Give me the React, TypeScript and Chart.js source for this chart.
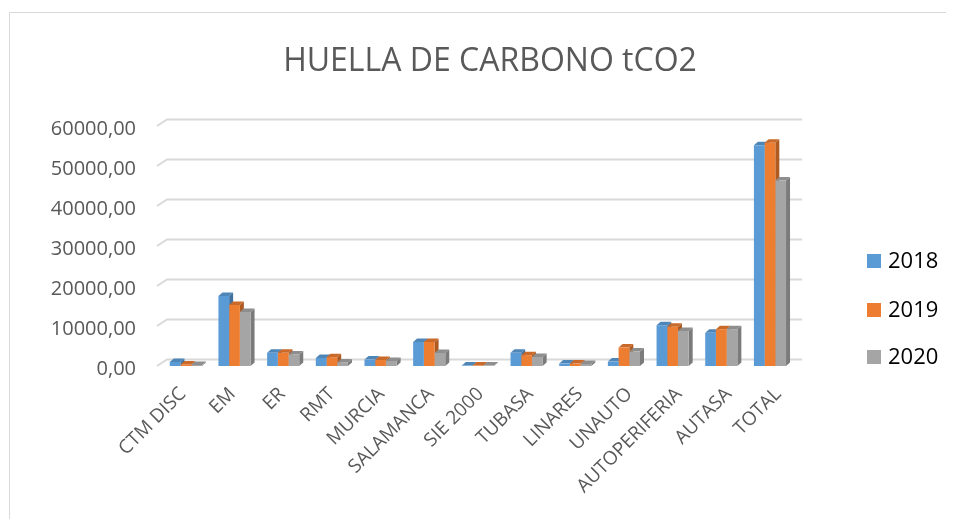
import React, { useEffect, useRef } from "react";
import { Chart, registerables } from "chart.js";

Chart.register(...registerables);

const categories = [
  "CTM DISC", "EM", "ER", "RMT", "MURCIA", "SALAMANCA", "SIE 2000",
  "TUBASA", "LINARES", "UNAUTO", "AUTOPERIFERIA", "AUTASA", "TOTAL",
];
const seriesNames = ["2018", "2019", "2020"];
const values2018 = [1000, 17500, 3300, 2000, 1600, 6000, 100, 3300, 600, 1100, 10200, 8300, 55200];
const values2019 = [400, 15250, 3300, 2200, 1500, 6000, 100, 2700, 600, 4600, 9800, 9200, 55800];
const values2020 = [250, 13500, 2900, 900, 1250, 3250, 100, 2250, 500, 3600, 8750, 9200, 46400];
const yTicks = [0, 10000, 20000, 30000, 40000, 50000, 60000];
const titleText = "HUELLA DE CARBONO tCO2";

const frontColors = ["#5B9BD5", "#ED7D31", "#A5A5A5"];
const sideColors = ["#41719C", "#AE5A21", "#7B7B7B"];
const topColors = ["#4F86B8", "#C9692A", "#8E8E8E"];

const FONT = "'Open Sans', 'Noto Sans', sans-serif";

const decorPlugin = {
  id: "decor",
  beforeDraw(chart: any) {
    const ctx = chart.ctx;
    ctx.save();
    ctx.fillStyle = "#ffffff";
    ctx.fillRect(0, 0, chart.width, chart.height);
    ctx.strokeStyle = "#d9d9d9";
    ctx.lineWidth = 1;
    ctx.beginPath();
    ctx.moveTo(1.5, chart.height);
    ctx.lineTo(1.5, 4.5);
    ctx.lineTo(chart.width, 4.5);
    ctx.stroke();

    ctx.fillStyle = "#595959";
    ctx.font = `32px ${FONT}`;
    ctx.textAlign = "center";
    ctx.textBaseline = "alphabetic";
    ctx.fillText(titleText, 482, 63);

    const area = chart.chartArea;
    const y = chart.scales.y;
    ctx.strokeStyle = "#d9d9d9";
    ctx.lineWidth = 1.8;
    yTicks.forEach((t) => {
      const py = y.getPixelForValue(t);
      ctx.beginPath();
      ctx.moveTo(area.left, py);
      ctx.lineTo(area.left + 10, py - 6.5);
      ctx.lineTo(area.right, py - 6.5);
      ctx.stroke();
    });

    ctx.font = `22px ${FONT}`;
    ctx.textAlign = "left";
    ctx.textBaseline = "middle";
    const ly = [253, 302, 349];
    seriesNames.forEach((n, i) => {
      ctx.fillStyle = frontColors[i];
      ctx.fillRect(859, ly[i] - 7, 14, 14);
      ctx.fillStyle = "#000000";
      ctx.fillText(n, 880, ly[i] + 1);
    });
    ctx.restore();
  },
  beforeDatasetsDraw(chart: any) {
    const ctx = chart.ctx;
    const dx = 4;
    const dy = 3.5;
    ctx.save();
    chart.data.datasets.forEach((ds: any, di: number) => {
      const meta = chart.getDatasetMeta(di);
      meta.data.forEach((bar: any) => {
        const { x, y, width, base } = bar.getProps(["x", "y", "width", "base"], true);
        const l = x - width / 2;
        const r = x + width / 2;
        ctx.fillStyle = sideColors[di];
        ctx.beginPath();
        ctx.moveTo(r, y);
        ctx.lineTo(r + dx, y - dy);
        ctx.lineTo(r + dx, base - dy);
        ctx.lineTo(r, base);
        ctx.closePath();
        ctx.fill();
        ctx.fillStyle = topColors[di];
        ctx.beginPath();
        ctx.moveTo(l, y);
        ctx.lineTo(l + dx, y - dy);
        ctx.lineTo(r + dx, y - dy);
        ctx.lineTo(r, y);
        ctx.closePath();
        ctx.fill();
      });
    });
    ctx.restore();
  },
};

export default function App() {
  const ref = useRef<HTMLCanvasElement | null>(null);
  useEffect(() => {
    if (!ref.current) return;
    const chart = new Chart(ref.current, {
      type: "bar",
      data: {
        datasets: [values2018, values2019, values2020].map((v, i) => ({
          label: seriesNames[i],
          data: v.map((val, k) => ({ x: k, y: val })),
          backgroundColor: frontColors[i],
          borderWidth: 0,
          categoryPercentage: 0.66,
          barPercentage: 1.0,
          xAxisID: "x",
          yAxisID: "y",
        })),
      },
      options: {
        animation: false,
        responsive: false,
        maintainAspectRatio: false,
        layout: { padding: { left: 0, top: 118, right: 144, bottom: 0 } },
        plugins: {
          legend: { display: false },
          title: { display: false },
          tooltip: { enabled: false },
        },
        scales: {
          x: {
            type: "linear",
            display: false,
            offset: false,
            min: -0.592,
            max: 12.658,
          },
          xl: {
            type: "linear",
            position: "bottom",
            offset: false,
            min: -0.524,
            max: 12.48,
            afterBuildTicks: (s: any) => { s.ticks = categories.map((_, k) => ({ value: k })); },
            grid: { display: false, drawTicks: false },
            border: { display: false },
            ticks: {
              color: "#595959",
              font: { family: FONT, size: 19 },
              minRotation: 45,
              maxRotation: 45,
              autoSkip: false,
              padding: 17,
              callback: (v: any) => categories[Math.round(Number(v))] ?? "",
            },
            afterFit: (s: any) => { s.height = 153; },
          },
          y: {
            min: 0,
            max: 60000,
            afterBuildTicks: (s: any) => { s.ticks = yTicks.map((v) => ({ value: v })); },
            grid: { display: false, drawTicks: false },
            border: { display: false },
            ticks: {
              color: "#595959",
              font: { family: FONT, size: 20 },
              padding: 21,
              labelOffset: 3,
              callback: (v: any) => Number(v).toFixed(2).replace(".", ","),
            },
            afterFit: (s: any) => { s.width = 149; },
          },
        },
      },
      plugins: [decorPlugin],
    });
    return () => chart.destroy();
  }, []);
  return (
    <div style={{ width: 938, height: 511 }}>
      <canvas ref={ref} width={938} height={511} style={{ display: "block", width: 938, height: 511 }} />
    </div>
  );
}
